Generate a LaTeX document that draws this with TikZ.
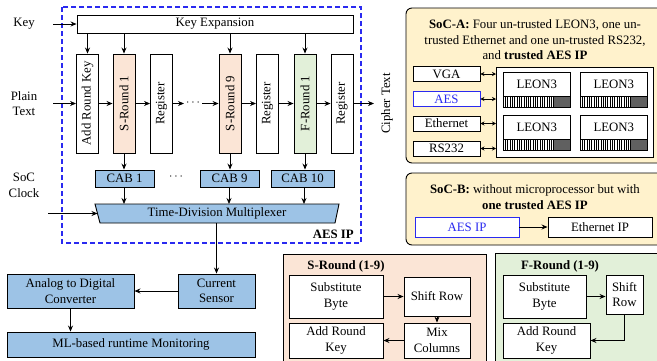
\documentclass[tikz,border=0pt]{standalone}
\usepackage{fontspec}
\setmainfont{Liberation Serif}
\usetikzlibrary{arrows.meta}
\definecolor{peach}{HTML}{FBE5D6}
\definecolor{mint}{HTML}{E2F0D9}
\definecolor{cabblue}{HTML}{9DC3E6}
\definecolor{socfill}{HTML}{FFF2CC}
\definecolor{aesblue}{HTML}{2A2AF0}
\definecolor{darkblk}{HTML}{606060}
\begin{document}
\begin{tikzpicture}[x=1pt,y=-1pt,
  font=\fontsize{12.8}{15.5}\selectfont,
  box/.style={draw=black, line width=0.9pt, inner sep=0pt, align=center, fill=white},
  vbox/.style={box, minimum width=22pt, minimum height=99pt},
  cab/.style={box, fill=cabblue, minimum height=17pt},
  arr/.style={-{Stealth[length=6pt,width=5pt]}, line width=0.8pt},
  dbl/.style={{Stealth[length=4pt,width=4pt]}-{Stealth[length=4pt,width=4pt]}, line width=0.6pt},
  lbl/.style={inner sep=0pt, align=center},
  socbox/.style={draw=black, line width=0.9pt, fill=socfill, rounded corners=6pt},
]
\useasboundingbox (0,0) rectangle (657,360);
\clip (0,0) rectangle (657,360);
\fill[white] (0,0) rectangle (657,360);

% ---------------- AES IP ----------------
\draw[aesblue, line width=1.3pt, dash pattern=on 5pt off 3pt] (62,7) rectangle (361,243);
\node[lbl, font=\fontsize{12.8}{15.5}\selectfont\bfseries, anchor=east] (aesiplbl) at (354,234) {AES IP};

\node[box, minimum width=276pt, minimum height=18pt] (kexp) at (215,24) {Key Expansion};

\node[vbox] (ark) at (87.5,103.5) {\rotatebox{90}{Add Round Key}};
\node[vbox, fill=peach] (sr1) at (124,103.5) {\rotatebox{90}{S-Round 1}};
\node[vbox] (reg1) at (161.5,103.5) {\rotatebox{90}{Register}};
\node[vbox, fill=peach] (sr9) at (230,103.5) {\rotatebox{90}{S-Round 9}};
\node[vbox] (reg9) at (267.5,103.5) {\rotatebox{90}{Register}};
\node[vbox, fill=mint] (fr1) at (305,103.5) {\rotatebox{90}{F-Round 1}};
\node[vbox] (reg10) at (342,103.5) {\rotatebox{90}{Register}};

\node[lbl] (keylbl) at (24,24) {Key};
\node[lbl] (ptlbl) at (24,103.5) {Plain\\Text};
\node[lbl] (clklbl) at (24,185.5) {SoC\\Clock};
\node[lbl, rotate=90] (ctlbl) at (387,103.5) {Cipher Text};

\coordinate (keyin) at (53,24);
\coordinate (ptin) at (53,103.5);
\coordinate (clkin) at (48,213.5);
\coordinate (dotsa) at (184,103.5);
\coordinate (dotsb) at (202,103.5);
\coordinate (ctout) at (374,103.5);

\draw[arr] (keyin) -- (kexp.west);
\draw[arr] (ptin) -- (ark.west);
\foreach \n in {ark,sr1,sr9,fr1}{
  \draw[arr] (kexp.south -| \n.north) -- (\n.north);
}
\draw[arr] (ark) -- (sr1);
\draw[arr] (sr1) -- (reg1);
\draw[arr] (reg1) -- (dotsa);
\node[lbl] (dots1) at (193,103) {$\cdots$};
\draw[arr] (dotsb) -- (sr9);
\draw[arr] (sr9) -- (reg9);
\draw[arr] (reg9) -- (fr1);
\draw[arr] (fr1) -- (reg10);
\draw[arr] (reg10) -- (ctout);

% CABs
\node[cab, minimum width=59pt] (cab1) at (124.5,178.5) {CAB 1};
\node[lbl] (dots2) at (176,177) {$\cdots$};
\node[cab, minimum width=59pt] (cab9) at (229.5,178.5) {CAB 9};
\node[cab, minimum width=63pt] (cab10) at (302.5,178.5) {CAB 10};
\draw[arr] (sr1.south) -- (sr1.south |- cab1.north);
\draw[arr] (sr9.south) -- (sr9.south |- cab9.north);
\draw[arr] (fr1.south) -- (fr1.south |- cab10.north);

% Multiplexer
\draw[line width=0.9pt, fill=cabblue] (95,204) -- (339,204) -- (335,223) -- (100,223) -- cycle;
\node[lbl, minimum width=244pt, minimum height=19pt] (mux) at (217,213.5) {Time-Division Multiplexer};
\draw[arr] (124,187) -- (124,204);
\draw[arr] (229,187) -- (229,204);
\draw[arr] (304,187) -- (304,204);
\draw[arr] (clkin) -- (97.5,213.5);

% Monitoring chain
\node[box, fill=cabblue, minimum width=77pt, minimum height=34pt] (cs) at (216.5,291) {Current\\Sensor};
\node[box, fill=cabblue, minimum width=127pt, minimum height=34pt] (adc) at (70.5,291) {Analog to Digital\\Converter};
\node[box, fill=cabblue, minimum width=248pt, minimum height=25pt] (ml) at (131,344.5) {ML-based runtime Monitoring};
\draw[arr] (mux.south -| cs.north) -- (cs.north);
\draw[arr] (cs.west) -- (adc.east);
\draw[arr] (adc.south) -- (adc.south |- ml.north);

% ---------------- SoC-A ----------------
\draw[socbox] (406,8) rectangle (672,163);
\node[lbl] (socatitle) at (535,40) {\textbf{SoC-A:} Four un-trusted LEON3, one un-\\trusted Ethernet and one un-trusted RS232,\\and \textbf{trusted AES IP}};
\node[box, minimum width=67pt, minimum height=15pt] (vga) at (446.5,74) {VGA};
\node[box, draw=aesblue, text=aesblue, minimum width=67pt, minimum height=15pt] (aes) at (446.5,99) {AES};
\node[box, minimum width=67pt, minimum height=15pt] (eth) at (446.5,123.5) {Ethernet};
\node[box, minimum width=67pt, minimum height=15pt] (rs) at (446.5,148.5) {RS232};
\node[box, line width=1.4pt, minimum width=157pt, minimum height=90pt, anchor=north west] (big) at (496,67) {};
\foreach \n in {vga,aes,eth,rs}{
  \draw[dbl] (\n.east) -- (\n.east -| big.west);
}
\foreach \lx/\ly/\nm in {503/72/leona,580/72/leonb,503/115/leonc,580/115/leond}{
  \node[box, line width=0.7pt, minimum width=67pt, minimum height=24pt, anchor=north west] (\nm) at (\lx,\ly) {LEON3};
  \draw[line width=0.7pt, fill=white] (\lx,\ly+24) rectangle (\lx+67,\ly+35);
  \foreach \k in {1,...,21}{
    \draw[line width=0.4pt] (\lx+\k*2.3,\ly+24) -- (\lx+\k*2.3,\ly+35);
  }
  \draw[line width=0.7pt, fill=darkblk] (\lx+50,\ly+24) rectangle (\lx+67,\ly+35);
}

% ---------------- SoC-B ----------------
\draw[socbox] (406,173) rectangle (672,245);
\node[lbl] (socbtitle) at (535,197) {\textbf{SoC-B:} without microprocessor but with\\\textbf{one trusted AES IP}};
\node[box, draw=aesblue, text=aesblue, minimum width=104pt, minimum height=20pt] (aesip) at (467,227) {AES IP};
\node[box, minimum width=104pt, minimum height=20pt] (ethip) at (600,227) {Ethernet IP};
\draw[arr] (aesip.east) -- (ethip.west);

% ---------------- S-Round ----------------
\draw[line width=0.9pt, fill=peach] (283,254) rectangle (486,370);
\node[lbl, font=\fontsize{12.8}{15.5}\selectfont\bfseries] (srtitle) at (346,266) {S-Round (1-9)};
\node[box, minimum width=94pt, minimum height=43pt] (ssb) at (336,296.5) {Substitute\\Byte};
\node[box, minimum width=66pt, minimum height=39pt] (ssr) at (437,296.5) {Shift Row};
\node[box, minimum width=94pt, minimum height=35pt] (sark) at (336,340.5) {Add Round\\Key};
\node[box, minimum width=66pt, minimum height=35pt] (smc) at (437,340.5) {Mix\\Columns};
\draw[arr] (ssb) -- (ssr);
\draw[arr] (ssr) -- (smc);
\draw[arr] (smc) -- (sark);

% ---------------- F-Round ----------------
\draw[line width=0.9pt, fill=mint] (495,253) rectangle (672,370);
\node[lbl, font=\fontsize{12.8}{15.5}\selectfont\bfseries] (frtitle) at (560,266) {F-Round (1-9)};
\node[box, minimum width=83pt, minimum height=43pt] (fsb) at (544.5,296.5) {Substitute\\Byte};
\node[box, minimum width=37pt, minimum height=39pt] (fsr) at (624.5,294.5) {Shift\\Row};
\node[box, minimum width=87pt, minimum height=35pt] (fark) at (546.5,340.5) {Add Round\\Key};
\draw[arr] (fsb.east) -- (fsb.east -| fsr.west);
\draw[arr] (fsr.south) |- (fark.east);
\end{tikzpicture}
\end{document}
